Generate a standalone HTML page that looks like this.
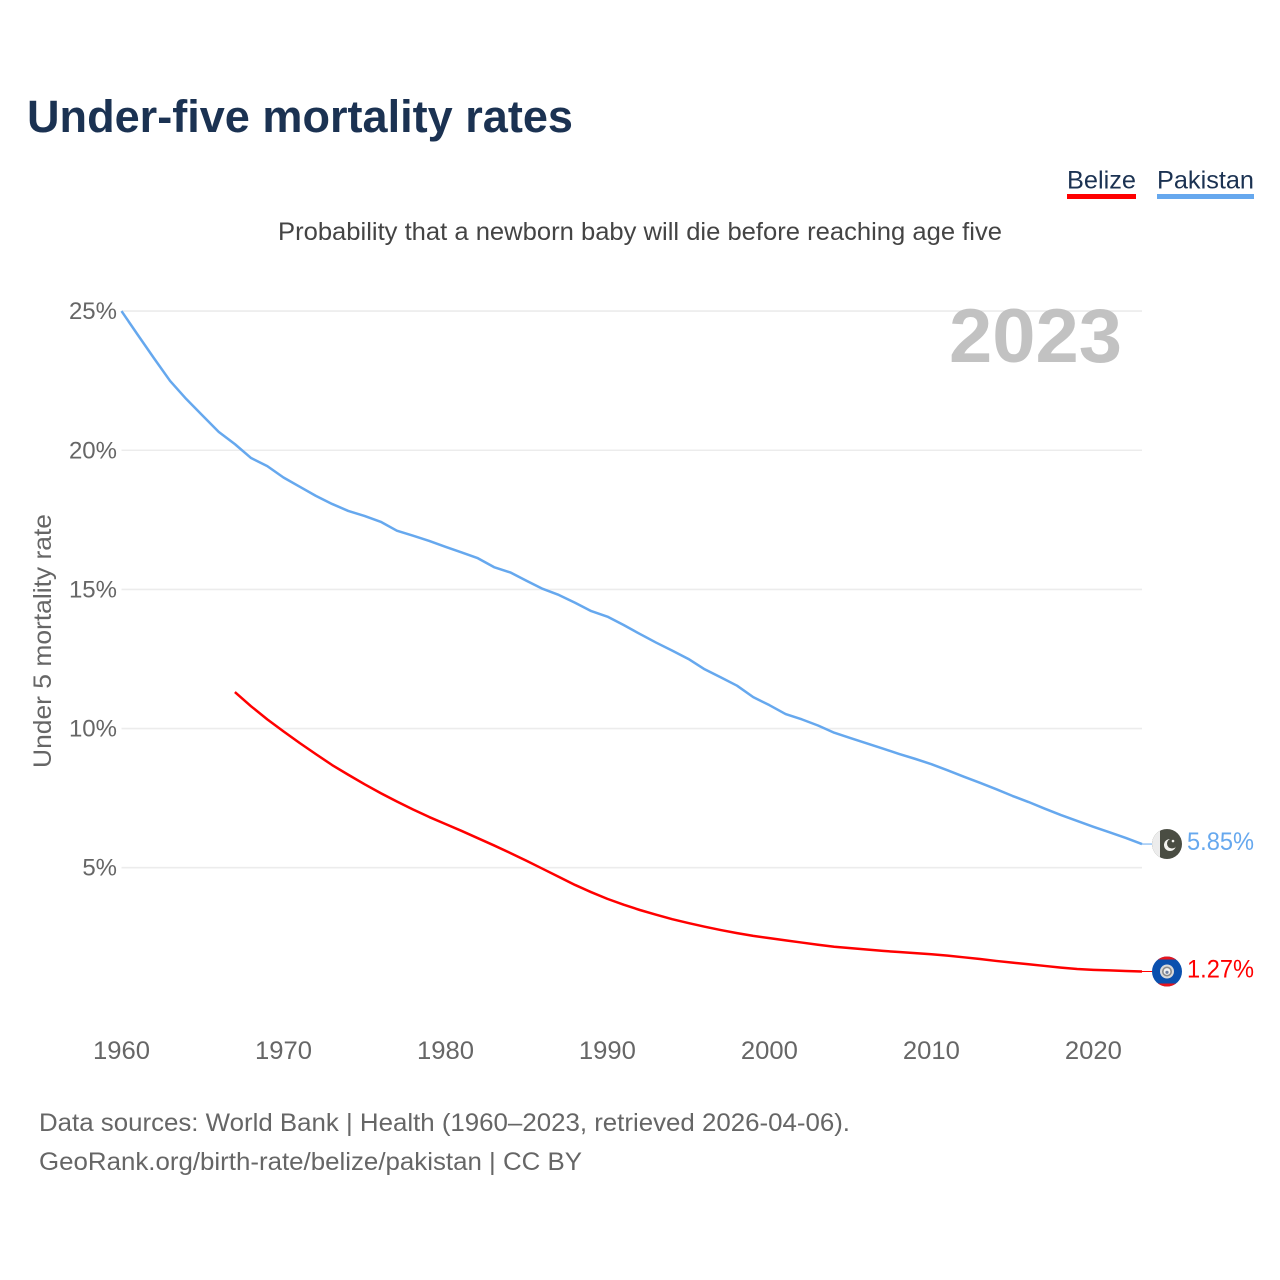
<!DOCTYPE html>
<html lang="en">
<head>
<meta charset="utf-8">
<title>Under-five mortality rates</title>
<style>
html,body{margin:0;padding:0;background:#fff;}
svg{display:block;font-family:"Liberation Sans",sans-serif;}
</style>
</head>
<body>
<svg id="chart" xmlns="http://www.w3.org/2000/svg" width="1280" height="1280" viewBox="0 0 1280 1280">
  <defs>
    <clipPath id="flag-clip-a"><circle cx="0" cy="0" r="15"/></clipPath>
    <clipPath id="flag-clip-b"><circle cx="0" cy="0" r="15"/></clipPath>
  </defs>
  <rect width="1280" height="1280" fill="#fff"/>
  <text x="27" y="132" font-size="45" font-weight="700" fill="#1b3252" textLength="546" lengthAdjust="spacingAndGlyphs">Under-five mortality rates</text>

  <g>
    <text x="1067" y="188.5" font-size="25" fill="#1b3252" textLength="69" lengthAdjust="spacingAndGlyphs">Belize</text>
    <rect x="1067" y="194" width="69" height="5" fill="#ff0000"/>
  </g>
  <g>
    <text x="1157" y="188.5" font-size="25" fill="#1b3252" textLength="97" lengthAdjust="spacingAndGlyphs">Pakistan</text>
    <rect x="1157" y="194" width="97" height="5" fill="#66a8ee"/>
  </g>

  <text x="278" y="240" font-size="25" fill="#444" textLength="724" lengthAdjust="spacingAndGlyphs">Probability that a newborn baby will die before reaching age five</text>

  <g id="grid"></g>
  <g id="y-ticks"></g>
  <g id="x-ticks"></g>

  <text transform="translate(51,768) rotate(-90)" x="0" y="0" font-size="25" fill="#666" textLength="254" lengthAdjust="spacingAndGlyphs">Under 5 mortality rate</text>

  <text x="949" y="362" font-size="76" font-weight="700" fill="#c2c2c2" textLength="173" lengthAdjust="spacingAndGlyphs">2023</text>

  <path id="line-pakistan" fill="none" stroke="#66a8ee" stroke-width="2.5" stroke-linejoin="round"/>
  <path id="line-belize" fill="none" stroke="#ff0000" stroke-width="2.5" stroke-linejoin="round"/>

  <line id="leader-pakistan" stroke="#66a8ee" stroke-width="1"/>
  <line id="leader-belize" stroke="#ff0000" stroke-width="1"/>

  <g id="flag-pakistan">
    <g clip-path="url(#flag-clip-a)">
      <rect x="-15" y="-15" width="30" height="30" fill="#4a4d43"/>
      <rect x="-15" y="-15" width="8" height="30" fill="#ececec"/>
      <circle cx="3" cy="1" r="6" fill="#f4f4f0"/>
      <circle cx="5" cy="-0.5" r="5" fill="#4a4d43"/>
      <circle cx="6" cy="-3" r="1.3" fill="#f4f4f0"/>
    </g>
  </g>
  <g id="flag-belize">
    <g clip-path="url(#flag-clip-b)">
      <rect x="-15" y="-15" width="30" height="30" fill="#0a50ae"/>
      <rect x="-15" y="-15" width="30" height="3" fill="#e8141c"/>
      <rect x="-15" y="12" width="30" height="3" fill="#e8141c"/>
      <circle cx="0" cy="0" r="7" fill="#d9d9d9"/>
      <circle cx="0" cy="0" r="5" fill="#8a8a8a"/>
      <circle cx="0" cy="0" r="3.4" fill="#f2f2f2"/>
      <circle cx="0" cy="0.8" r="1.6" fill="#6f7fa0"/>
    </g>
  </g>

  <text id="value-pakistan" x="1254" text-anchor="end" font-size="25" fill="#66a8ee" textLength="67" lengthAdjust="spacingAndGlyphs"></text>
  <text id="value-belize" x="1254" text-anchor="end" font-size="25" fill="#ff0000" textLength="67" lengthAdjust="spacingAndGlyphs"></text>

  <text x="39" y="1131" font-size="25" fill="#666" textLength="811" lengthAdjust="spacingAndGlyphs">Data sources: World Bank | Health (1960–2023, retrieved 2026-04-06).</text>
  <text x="39" y="1170" font-size="25" fill="#666" textLength="543" lengthAdjust="spacingAndGlyphs">GeoRank.org/birth-rate/belize/pakistan | CC BY</text>
</svg>
<script>
const years = [1960,1961,1962,1963,1964,1965,1966,1967,1968,1969,
  1970,1971,1972,1973,1974,1975,1976,1977,1978,1979,
  1980,1981,1982,1983,1984,1985,1986,1987,1988,1989,
  1990,1991,1992,1993,1994,1995,1996,1997,1998,1999,
  2000,2001,2002,2003,2004,2005,2006,2007,2008,2009,
  2010,2011,2012,2013,2014,2015,2016,2017,2018,2019,
  2020,2021,2022,2023];
const pakistanValues = [25.00,24.15,23.31,22.49,21.84,21.25,20.66,20.22,19.72,19.43,
  19.02,18.69,18.36,18.07,17.82,17.64,17.43,17.11,16.93,16.74,
  16.53,16.33,16.12,15.80,15.61,15.31,15.02,14.80,14.52,14.22,
  14.02,13.72,13.40,13.09,12.80,12.50,12.13,11.84,11.54,11.13,
  10.84,10.52,10.33,10.11,9.85,9.66,9.47,9.28,9.09,8.91,
  8.72,8.50,8.27,8.05,7.82,7.58,7.36,7.12,6.89,6.68,
  6.47,6.27,6.07,5.85];
const belizeValues = [null,null,null,null,null,null,null,11.31,10.80,10.33,
  9.90,9.48,9.08,8.69,8.34,8.00,7.68,7.38,7.09,6.82,
  6.57,6.32,6.06,5.80,5.53,5.25,4.96,4.67,4.38,4.12,
  3.88,3.67,3.48,3.31,3.15,3.01,2.88,2.76,2.65,2.55,
  2.47,2.39,2.31,2.23,2.16,2.11,2.06,2.01,1.97,1.93,
  1.89,1.84,1.78,1.72,1.65,1.59,1.53,1.47,1.41,1.36,
  1.33,1.31,1.29,1.27];
const yTickValues = [5,10,15,20,25];
const xTickValues = [1960,1970,1980,1990,2000,2010,2020];

const NS = 'http://www.w3.org/2000/svg';
function xScale(year){ return 121.5 + (year - 1960) * (1142 - 121.5) / 63; }
function yScale(v){ return 867.7 - (v - 5) * 27.83; }

function buildPath(values){
  let d = '';
  let open = false;
  values.forEach(function(v, i){
    if (v === null) { return; }
    d += (open ? 'L' : 'M') + xScale(years[i]).toFixed(2) + ' ' + yScale(v).toFixed(2);
    open = true;
  });
  return d;
}

const gridGroup = document.getElementById('grid');
const yGroup = document.getElementById('y-ticks');
yTickValues.forEach(function(v){
  const line = document.createElementNS(NS, 'line');
  
  
  line.setAttribute('x1', xScale(1960));
  line.setAttribute('x2', xScale(2023));
  line.setAttribute('y1', yScale(v));
  line.setAttribute('y2', yScale(v));
  line.setAttribute('stroke', '#ececec');
  line.setAttribute('stroke-width', '1.6');
  gridGroup.appendChild(line);

  const label = document.createElementNS(NS, 'text');
  
  
  label.setAttribute('x', '117');
  label.setAttribute('y', yScale(v) + 8);
  label.setAttribute('text-anchor', 'end');
  label.setAttribute('font-size', '24');
  label.setAttribute('fill', '#666');
  label.textContent = v + '%';
  yGroup.appendChild(label);
});

const xGroup = document.getElementById('x-ticks');
xTickValues.forEach(function(year){
  const label = document.createElementNS(NS, 'text');
  
  
  label.setAttribute('x', xScale(year));
  label.setAttribute('y', '1059');
  label.setAttribute('text-anchor', 'middle');
  label.setAttribute('font-size', '25');
  label.setAttribute('fill', '#666');
  label.setAttribute('textLength', '57');
  label.setAttribute('lengthAdjust', 'spacingAndGlyphs');
  label.textContent = String(year);
  xGroup.appendChild(label);
});

document.getElementById('line-pakistan').setAttribute('d', buildPath(pakistanValues));
document.getElementById('line-belize').setAttribute('d', buildPath(belizeValues));

function placeEnd(name, values, labelDy){
  const last = values[values.length - 1];
  const y = yScale(last);
  const leader = document.getElementById('leader-' + name);
  leader.setAttribute('x1', xScale(2023));
  leader.setAttribute('x2', '1153');
  leader.setAttribute('y1', y);
  leader.setAttribute('y2', y);
  document.getElementById('flag-' + name).setAttribute('transform', 'translate(1167,' + y.toFixed(2) + ')');
  const label = document.getElementById('value-' + name);
  label.setAttribute('y', (y + labelDy).toFixed(2));
  label.textContent = last.toFixed(2) + '%';
}
placeEnd('pakistan', pakistanValues, 6);
placeEnd('belize', belizeValues, 6);
</script>
</body>
</html>
